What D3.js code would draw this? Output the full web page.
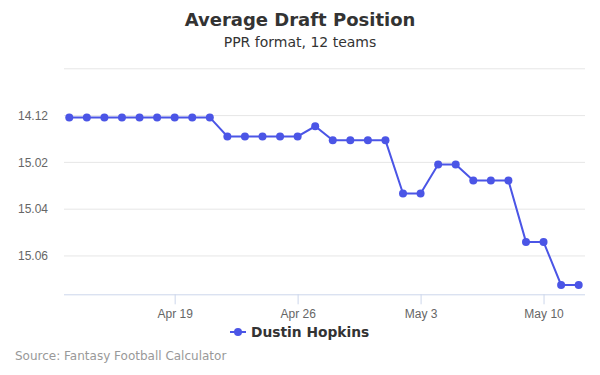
<!doctype html>
<html>
<head>
<meta charset="UTF-8">
<title>Average Draft Position</title>
<script src="https://d3js.org/d3.v7.min.js"></script>
<style>
  body { margin: 0; background: #fff; }
  svg { font-family: "DejaVu Sans", Verdana, Arial, sans-serif; }
  .grid line { stroke: #e6e6e6; }
  .tick text { fill: #666; font-size: 12px; }
</style>
</head>
<body>
<svg width="600" height="375"></svg>
<script>
// days of the season (Apr 13 .. May 12) and ADP as overall pick
const dates = d3.timeDay.range(new Date(2019, 3, 13), new Date(2019, 4, 13));
const adp = [
  168.1, 168.1, 168.1, 168.1, 168.1, 168.1, 168.1, 168.1, 168.1,
  168.91, 168.91, 168.91, 168.91, 168.91,
  168.48,
  169.08, 169.08, 169.08, 169.08,
  171.35, 171.35,
  170.11, 170.11,
  170.8, 170.8, 170.8,
  173.42, 173.42,
  175.26, 175.26
];
const yTicks = [166, 168, 170, 172, 174];
const xTicks = [new Date(2019, 3, 19), new Date(2019, 3, 26), new Date(2019, 4, 3), new Date(2019, 4, 10)];
const teams = 12;
const playerName = "Dustin Hopkins";

const color = "#4b55e6";
const plotL = 64, plotR = 585, plotT = 68.3, plotB = 294.3;
const dayMs = 864e5;

const svg = d3.select("svg");

const x = d3.scaleTime()
  .domain([new Date(+dates[0] - 0.3 * dayMs), new Date(+dates[dates.length - 1] + 0.36 * dayMs)])
  .range([plotL, plotR]);
const y = d3.scaleLinear().domain([166, 175.66]).range([plotT, plotB]);

// pick -> "round.pick"
const fmtPick = p => {
  const r = Math.floor((p - 1) / teams) + 1;
  const k = ((p - 1) % teams) + 1;
  return r + "." + String(k).padStart(2, "0");
};

// titre
svg.append("text").attr("x", 300).attr("y", 26).attr("text-anchor", "middle")
  .attr("font-size", 18).attr("font-weight", "bold").attr("fill", "#333")
  .text("Average Draft Position");
svg.append("text").attr("x", 300).attr("y", 46.5).attr("text-anchor", "middle")
  .attr("font-size", 14).attr("fill", "#333")
  .text("PPR format, " + teams + " teams");

// grille + axe y
const yAxis = svg.append("g").attr("class", "grid")
  .attr("transform", `translate(${plotL},0)`)
  .call(d3.axisLeft(y).tickValues(yTicks).tickSize(-(plotR - plotL)).tickPadding(16)
    .tickFormat(d => d === 166 ? "" : fmtPick(d)));
yAxis.select(".domain").remove();
yAxis.selectAll(".tick text").attr("dy", "0.35em");

// axe x
const xAxis = svg.append("g")
  .attr("transform", `translate(0,${plotB})`)
  .call(d3.axisBottom(x).tickValues(xTicks).tickSize(10).tickPadding(5)
    .tickFormat(d3.timeFormat("%b %-d")));
xAxis.select(".domain").attr("stroke", "#ccd6eb").attr("d", `M${plotL},0.5H${plotR}`);
xAxis.selectAll(".tick line").attr("stroke", "#ccd6eb");

// série
const pts = dates.map((d, i) => ({ d, v: adp[i] }));
svg.append("path").datum(pts)
  .attr("fill", "none").attr("stroke", color).attr("stroke-width", 2)
  .attr("d", d3.line().x(p => x(p.d)).y(p => y(p.v)));
svg.selectAll(".pt").data(pts).enter().append("circle")
  .attr("class", "pt").attr("cx", p => x(p.d)).attr("cy", p => y(p.v))
  .attr("r", 4).attr("fill", color);

// légende
const lg = svg.append("g").attr("transform", "translate(230,332)");
lg.append("line").attr("x1", 0).attr("x2", 16).attr("stroke", color).attr("stroke-width", 2);
lg.append("circle").attr("cx", 8).attr("r", 4).attr("fill", color);
lg.append("text").attr("x", 21).attr("dy", "0.35em").attr("font-size", 13.8)
  .attr("font-weight", "bold").attr("fill", "#333").text(playerName);

// crédits
svg.append("text").attr("x", 15).attr("y", 360).attr("font-size", 12).attr("fill", "#999")
  .text("Source: Fantasy Football Calculator");
</script>
</body>
</html>
